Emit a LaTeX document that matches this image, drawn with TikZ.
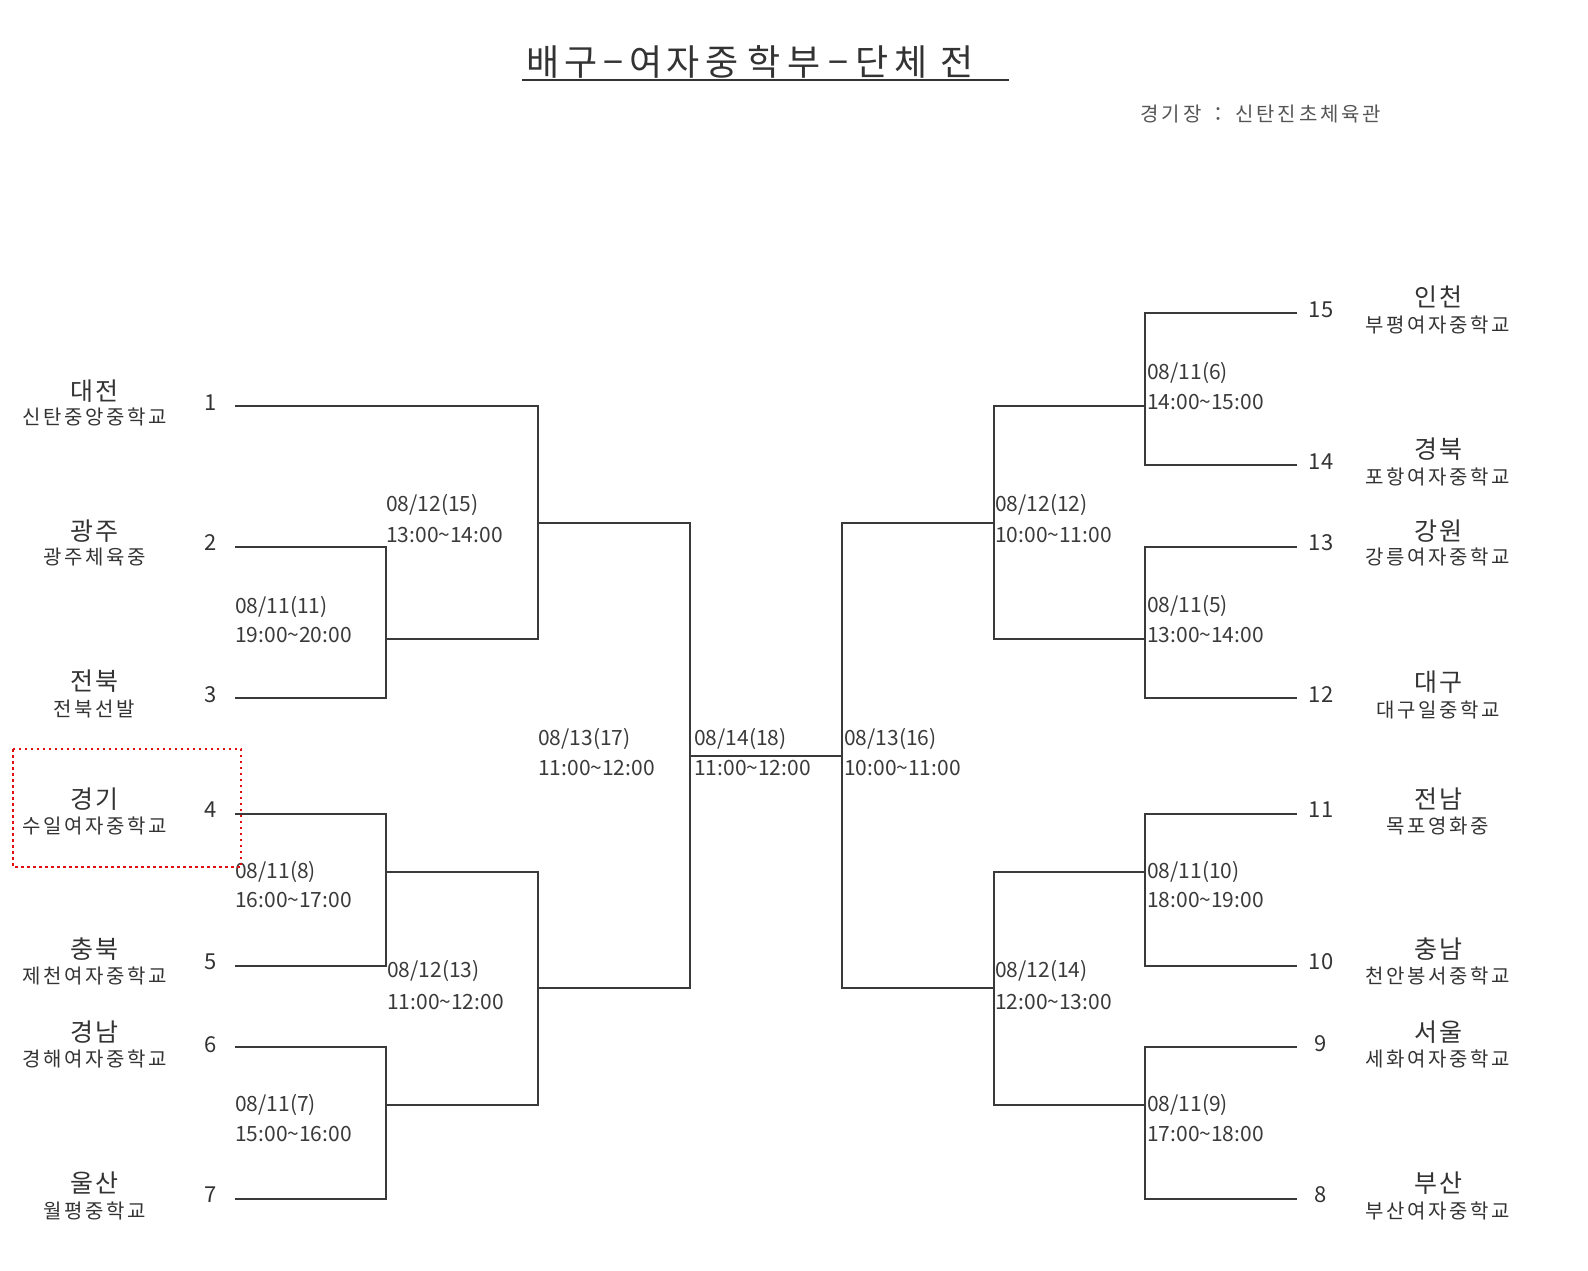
\documentclass[tikz,border=0pt]{standalone}
\usepackage{fontspec}
\setmainfont{Noto Sans CJK KR}
\definecolor{ink}{HTML}{333333}
\definecolor{datec}{HTML}{3A3A3A}
\definecolor{linec}{HTML}{3A3A3A}
\definecolor{venuec}{HTML}{555555}
\definecolor{hlred}{HTML}{E01010}
\ExplSyntaxOn
\NewDocumentCommand\spaced{mm}{\tl_map_inline:nn{#2}{\makebox[#1]{##1}}}
\ExplSyntaxOff
\newcommand\regtxt[1]{\spaced{25pt}{#1}}
\newcommand\schtxt[1]{\spaced{21pt}{#1}}
\newcommand\tg[2]{\makebox[#1pt]{#2}}
\begin{document}
\begin{tikzpicture}[x=1pt,y=-1pt,
  br/.style={draw=linec, line width=1.8pt},
  region/.style={font=\fontsize{25}{28}\selectfont, text=ink, anchor=base, inner sep=0pt},
  school/.style={font=\fontsize{20}{24}\selectfont, text=ink, anchor=base, inner sep=0pt},
  num/.style={font=\fontsize{22}{26}\selectfont, text=ink, anchor=base, inner sep=0pt},
  date/.style={font=\fontsize{21}{26}\selectfont, text=datec, anchor=base west, inner sep=0pt},
  hlbox/.style={draw=hlred, line width=2.5pt, dash pattern=on 2.5pt off 3.5pt},
]
\useasboundingbox (0,0) rectangle (1588,1270);

% title
\node[font=\fontsize{36}{40}\selectfont, text=ink, anchor=base west, inner sep=0pt] (title) at (523,75.5)
  {\tg{40}{배}\tg{35.75}{구}\tg{29.75}{−}\tg{34.25}{여}\tg{39.25}{자}\tg{40.25}{중}\tg{43}{학}\tg{37.5}{부}\tg{31.5}{−}\tg{35.25}{단}\tg{42.75}{체}\tg{48.5}{전}};
\coordinate (ul1) at (522,80);
\coordinate (ul2) at (1009,80);
\draw[line width=2pt, ink] (ul1) -- (ul2);
\node[font=\fontsize{20}{24}\selectfont, text=venuec, anchor=base west, inner sep=0pt] (venue) at (1139,121) {\spaced{21.3pt}{경기장}\makebox[30.6pt]{：}\spaced{21.3pt}{신탄진초체육관}};

% left teams
\node[region] (r1) at (94.5,400) {\regtxt{대전}};   \node[school] (s1) at (94.5,424.5) {\schtxt{신탄중앙중학교}};
\node[region] (r2) at (94.5,540) {\regtxt{광주}};   \node[school] (s2) at (94.5,564.5) {\schtxt{광주체육중}};
\node[region] (r3) at (94.5,690) {\regtxt{전북}};   \node[school] (s3) at (94.5,716.5) {\schtxt{전북선발}};
\node[region] (r4) at (94.5,808) {\regtxt{경기}};   \node[school] (s4) at (94.5,833.5) {\schtxt{수일여자중학교}};
\node[region] (r5) at (94.5,958) {\regtxt{충북}};   \node[school] (s5) at (94.5,983.5) {\schtxt{제천여자중학교}};
\node[region] (r6) at (94.5,1041) {\regtxt{경남}};  \node[school] (s6) at (94.5,1066.5) {\schtxt{경해여자중학교}};
\node[region] (r7) at (94.5,1192) {\regtxt{울산}};  \node[school] (s7) at (94.5,1218.5) {\schtxt{월평중학교}};

\node[num] (n1) at (211,410) {1};
\node[num] (n2) at (211,550) {2};
\node[num] (n3) at (211,702) {3};
\node[num] (n4) at (211,817) {4};
\node[num] (n5) at (211,969) {5};
\node[num] (n6) at (211,1052) {6};
\node[num] (n7) at (211,1202) {7};

% right teams
\node[region] (r15) at (1438,306) {\regtxt{인천}};  \node[school] (s15) at (1438,332.5) {\schtxt{부평여자중학교}};
\node[region] (r14) at (1438,458) {\regtxt{경북}};  \node[school] (s14) at (1438,484.5) {\schtxt{포항여자중학교}};
\node[region] (r13) at (1438,540) {\regtxt{강원}};  \node[school] (s13) at (1438,564.5) {\schtxt{강릉여자중학교}};
\node[region] (r12) at (1438,691) {\regtxt{대구}};  \node[school] (s12) at (1438,717.5) {\schtxt{대구일중학교}};
\node[region] (r11) at (1438,808) {\regtxt{전남}};  \node[school] (s11) at (1438,833.5) {\schtxt{목포영화중}};
\node[region] (r10) at (1438,958) {\regtxt{충남}};  \node[school] (s10) at (1438,983.5) {\schtxt{천안봉서중학교}};
\node[region] (r9) at (1438,1041) {\regtxt{서울}};  \node[school] (s9) at (1438,1066.5) {\schtxt{세화여자중학교}};
\node[region] (r8) at (1438,1192) {\regtxt{부산}};  \node[school] (s8) at (1438,1218.5) {\schtxt{부산여자중학교}};

\node[num] (n15) at (1321,317) {15};
\node[num] (n14) at (1321,469) {14};
\node[num] (n13) at (1321,550) {13};
\node[num] (n12) at (1321,702) {12};
\node[num] (n11) at (1321,817) {11};
\node[num] (n10) at (1321,969) {10};
\node[num] (n9) at (1321,1051) {9};
\node[num] (n8) at (1321,1202) {8};

% bracket coordinates
\coordinate (p1) at (235,406);
\coordinate (p2) at (235,547);
\coordinate (p3) at (235,698);
\coordinate (p4) at (235,814);
\coordinate (p5) at (235,966);
\coordinate (p6) at (235,1047);
\coordinate (p7) at (235,1199);
\coordinate (m11) at (386,639);
\coordinate (m8) at (386,872);
\coordinate (m7) at (386,1105);
\coordinate (m15) at (538,523);
\coordinate (m13) at (538,988);
\coordinate (m17) at (690,756);
\coordinate (m16) at (842,756);
\coordinate (m12) at (994,523);
\coordinate (m14) at (994,988);
\coordinate (m6) at (1145,406);
\coordinate (m5) at (1145,639);
\coordinate (m10) at (1145,872);
\coordinate (m9) at (1145,1105);
\coordinate (q15) at (1297,313);
\coordinate (q14) at (1297,465);
\coordinate (q13) at (1297,547);
\coordinate (q12) at (1297,698);
\coordinate (q11) at (1297,814);
\coordinate (q10) at (1297,966);
\coordinate (q9) at (1297,1047);
\coordinate (q8) at (1297,1199);

% left bracket
\draw[br] (p2) -| (m11) |- (p3);
\draw[br] (p4) -| (m8) |- (p5);
\draw[br] (p6) -| (m7) |- (p7);
\draw[br] (p1) -| (m15) |- (m11);
\draw[br] (m8) -| (m13) |- (m7);
\draw[br] (m15) -| (m17) |- (m13);
% final
\draw[br] (m17) -- (m16);
% right bracket
\draw[br] (m12) -| (m16) |- (m14);
\draw[br] (m6) -| (m12) |- (m5);
\draw[br] (m10) -| (m14) |- (m9);
\draw[br] (q15) -| (m6) |- (q14);
\draw[br] (q13) -| (m5) |- (q12);
\draw[br] (q11) -| (m10) |- (q10);
\draw[br] (q9) -| (m9) |- (q8);

% match labels
\node[date] (d11a) at (235,613) {08/11(11)};  \node[date] (d11b) at (235,642) {19:00\textasciitilde 20:00};
\node[date] (d15a) at (386,511) {08/12(15)};  \node[date] (d15b) at (386,542) {13:00\textasciitilde 14:00};
\node[date] (d8a) at (235,878) {08/11(8)};    \node[date] (d8b) at (235,907) {16:00\textasciitilde 17:00};
\node[date] (d13a) at (387,977) {08/12(13)};  \node[date] (d13b) at (387,1009) {11:00\textasciitilde 12:00};
\node[date] (d7a) at (235,1111) {08/11(7)};   \node[date] (d7b) at (235,1141) {15:00\textasciitilde 16:00};
\node[date] (d17a) at (538,745) {08/13(17)};  \node[date] (d17b) at (538,775) {11:00\textasciitilde 12:00};
\node[date] (d18a) at (694,745) {08/14(18)};  \node[date] (d18b) at (694,775) {11:00\textasciitilde 12:00};
\node[date] (d16a) at (844,745) {08/13(16)};  \node[date] (d16b) at (844,775) {10:00\textasciitilde 11:00};
\node[date] (d6a) at (1147,379) {08/11(6)};   \node[date] (d6b) at (1147,409) {14:00\textasciitilde 15:00};
\node[date] (d12a) at (995,511) {08/12(12)};  \node[date] (d12b) at (995,542) {10:00\textasciitilde 11:00};
\node[date] (d5a) at (1147,612) {08/11(5)};   \node[date] (d5b) at (1147,642) {13:00\textasciitilde 14:00};
\node[date] (d10a) at (1147,878) {08/11(10)}; \node[date] (d10b) at (1147,907) {18:00\textasciitilde 19:00};
\node[date] (d14a) at (995,977) {08/12(14)};  \node[date] (d14b) at (995,1009) {12:00\textasciitilde 13:00};
\node[date] (d9a) at (1147,1111) {08/11(9)};  \node[date] (d9b) at (1147,1141) {17:00\textasciitilde 18:00};

% highlight box
\coordinate (hl1) at (13,749);
\coordinate (hl2) at (241,867);
\draw[hlbox] (hl1) rectangle (hl2);
\end{tikzpicture}
\end{document}
